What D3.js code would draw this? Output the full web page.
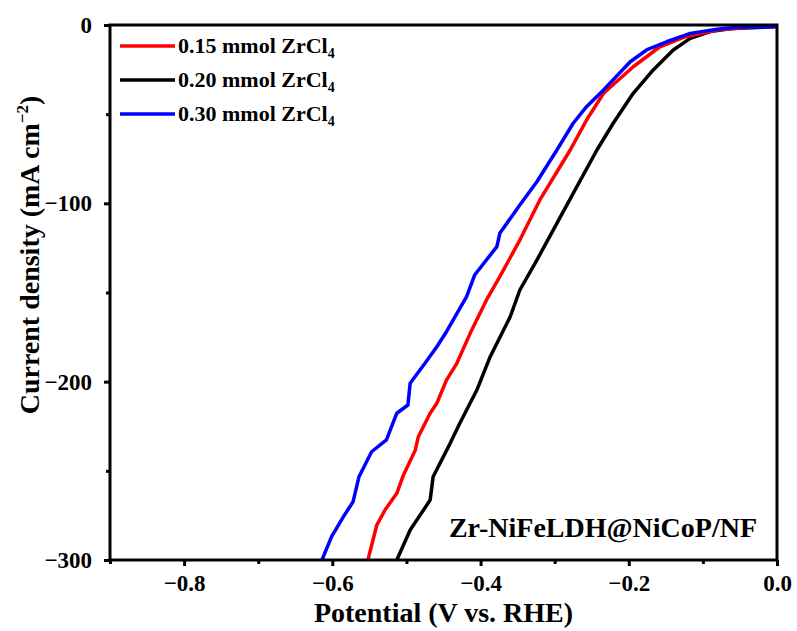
<!DOCTYPE html>
<html>
<head>
<meta charset="utf-8">
<script src="https://cdn.jsdelivr.net/npm/d3@7"></script>
<style>
  body { margin: 0; background: #fff; }
  text { font-family: "Liberation Serif", "Times New Roman", serif; font-weight: bold; }
</style>
</head>
<body>
<script>
// series: [potential V, current density mA cm-2]
const series015 = [
  [-0.552, -300], [-0.540, -280.4], [-0.529, -272.0], [-0.513, -262.6], [-0.504, -252.3],
  [-0.488, -238.3], [-0.484, -230.9], [-0.468, -217.7], [-0.459, -212.1], [-0.446, -199.1],
  [-0.432, -189.7], [-0.414, -172.9], [-0.392, -154.2], [-0.374, -141.1], [-0.347, -120.6],
  [-0.320, -98.1], [-0.279, -70.1], [-0.257, -53.3], [-0.234, -38.3], [-0.194, -23.4],
  [-0.158, -12.2], [-0.126, -6.9], [-0.081, -2.8], [-0.027, -0.9], [0, -0.6]
];
const series020 = [
  [-0.513, -300], [-0.495, -283.2], [-0.468, -266.4], [-0.464, -253.3], [-0.441, -234.6],
  [-0.428, -223.3], [-0.405, -204.7], [-0.387, -186.0], [-0.360, -163.6], [-0.347, -148.6],
  [-0.324, -131.8], [-0.302, -115.0], [-0.275, -94.4], [-0.243, -70.1], [-0.221, -55.1],
  [-0.194, -38.3], [-0.167, -25.2], [-0.140, -14.0], [-0.117, -7.5], [-0.090, -3.7],
  [-0.059, -1.9], [-0.005, -1.0], [0, -0.7]
];
const series030 = [
  [-0.614, -300], [-0.601, -286.9], [-0.585, -275.7], [-0.572, -267.3], [-0.564, -253.3],
  [-0.547, -239.3], [-0.527, -232.7], [-0.513, -217.7], [-0.498, -213.1], [-0.495, -200.9],
  [-0.475, -189.7], [-0.459, -180.4], [-0.446, -172.0], [-0.419, -152.4], [-0.408, -140.2],
  [-0.378, -124.3], [-0.374, -116.8], [-0.347, -100.9], [-0.324, -87.9], [-0.297, -70.1],
  [-0.275, -55.1], [-0.257, -45.8], [-0.234, -36.4], [-0.198, -20.6], [-0.176, -14.0],
  [-0.149, -9.4], [-0.117, -4.7], [-0.081, -2.4], [-0.054, -1.3], [-0.005, -1.0], [0, -0.8]
];
const seriesNames = ['0.15 mmol ZrCl', '0.20 mmol ZrCl', '0.30 mmol ZrCl'];
const seriesColors = ['#ff0000', '#000000', '#0000ff'];
const xTicks = [-0.8, -0.6, -0.4, -0.2, 0.0];
const xMinor = [-0.9, -0.7, -0.5, -0.3, -0.1];
const yTicks = [0, -100, -200, -300];
const yMinor = [-50, -150, -250];

var margin = {top: 25, right: 20, bottom: 71, left: 110},
    width = 797 - margin.left - margin.right,
    height = 631 - margin.top - margin.bottom;

var svg = d3.select("body").append("svg")
    .attr("width", 797)
    .attr("height", 631);

const g = svg.append("g")
    .attr("transform", `translate(${margin.left},${margin.top})`);

const xScale = d3.scaleLinear().domain([-0.9, 0]).range([0, width]);
const yScale = d3.scaleLinear().domain([-300, 0]).range([height, 0]);

g.append("clipPath").attr("id", "clip")
  .append("rect").attr("width", width).attr("height", height);

// curves
const lineGenerator = d3.line()
    .x(d => xScale(d[0]))
    .y(d => yScale(d[1]));

const allSeries = [series015, series020, series030];
[1, 0, 2].forEach(i => {
  g.append("path")
    .attr("clip-path", "url(#clip)")
    .attr("d", lineGenerator(allSeries[i]))
    .attr("fill", "none")
    .attr("stroke", seriesColors[i])
    .attr("stroke-width", 3.5)
    .attr("stroke-linejoin", "round");
});

// axes
const fmt = d => d === 0 ? "0.0" : d3.format(".1f")(d).replace("-", "\u2212");
g.append("g")
    .attr("transform", `translate(0,${height})`)
    .call(d3.axisBottom(xScale).tickValues(xTicks).tickFormat(fmt).tickSize(6).tickSizeOuter(0).tickPadding(9));
g.append("g")
    .attr("transform", `translate(0,${height})`)
    .call(d3.axisBottom(xScale).tickValues(xMinor).tickFormat("").tickSize(4).tickSizeOuter(0));

g.append("g")
    .call(d3.axisLeft(yScale).tickValues(yTicks).tickFormat(d => String(d).replace("-", "\u2212")).tickSize(6).tickSizeOuter(0).tickPadding(12));
g.append("g")
    .call(d3.axisLeft(yScale).tickValues(yMinor).tickFormat("").tickSize(4).tickSizeOuter(0));

g.selectAll(".tick line").attr("stroke", "#000").attr("stroke-width", 3);
g.selectAll(".domain").attr("stroke", "none");
g.selectAll(".tick text").attr("font-size", 23).attr("fill", "#000")
  .attr("font-family", "Liberation Serif").attr("font-weight", "bold");

// frame
g.append("rect")
  .attr("width", width).attr("height", height)
  .attr("fill", "none").attr("stroke", "#000").attr("stroke-width", 3);

// legend
seriesNames.forEach((name, i) => {
  const y = 21 + i * 34;
  g.append("line")
    .attr("x1", 10).attr("x2", 65).attr("y1", y).attr("y2", y)
    .attr("stroke", seriesColors[i]).attr("stroke-width", 3.5);
  const t = g.append("text")
    .attr("x", 68).attr("y", y + 7)
    .attr("font-size", 22);
  t.append("tspan").text(name);
  t.append("tspan").attr("font-size", 14).attr("dy", 5).text("4");
});

// annotation
g.append("text")
  .attr("x", width - 20).attr("y", height - 23)
  .attr("text-anchor", "end")
  .attr("font-size", 28)
  .text("Zr-NiFeLDH@NiCoP/NF");

// X Axis Label
g.append("text")
  .attr("x", width / 2).attr("y", height + 62)
  .attr("text-anchor", "middle")
  .attr("font-size", 28)
  .text("Potential (V vs. RHE)");

// Y Axis Label
const yl = g.append("text")
  .attr("transform", `translate(-71,${230}) rotate(-90)`)
  .attr("text-anchor", "middle")
  .attr("font-size", 28);
yl.append("tspan").text("Current density (mA cm");
yl.append("tspan").attr("font-size", 17).attr("dy", -11).text("\u22122");
yl.append("tspan").attr("dy", 11).text(")");
</script>
</body>
</html>
